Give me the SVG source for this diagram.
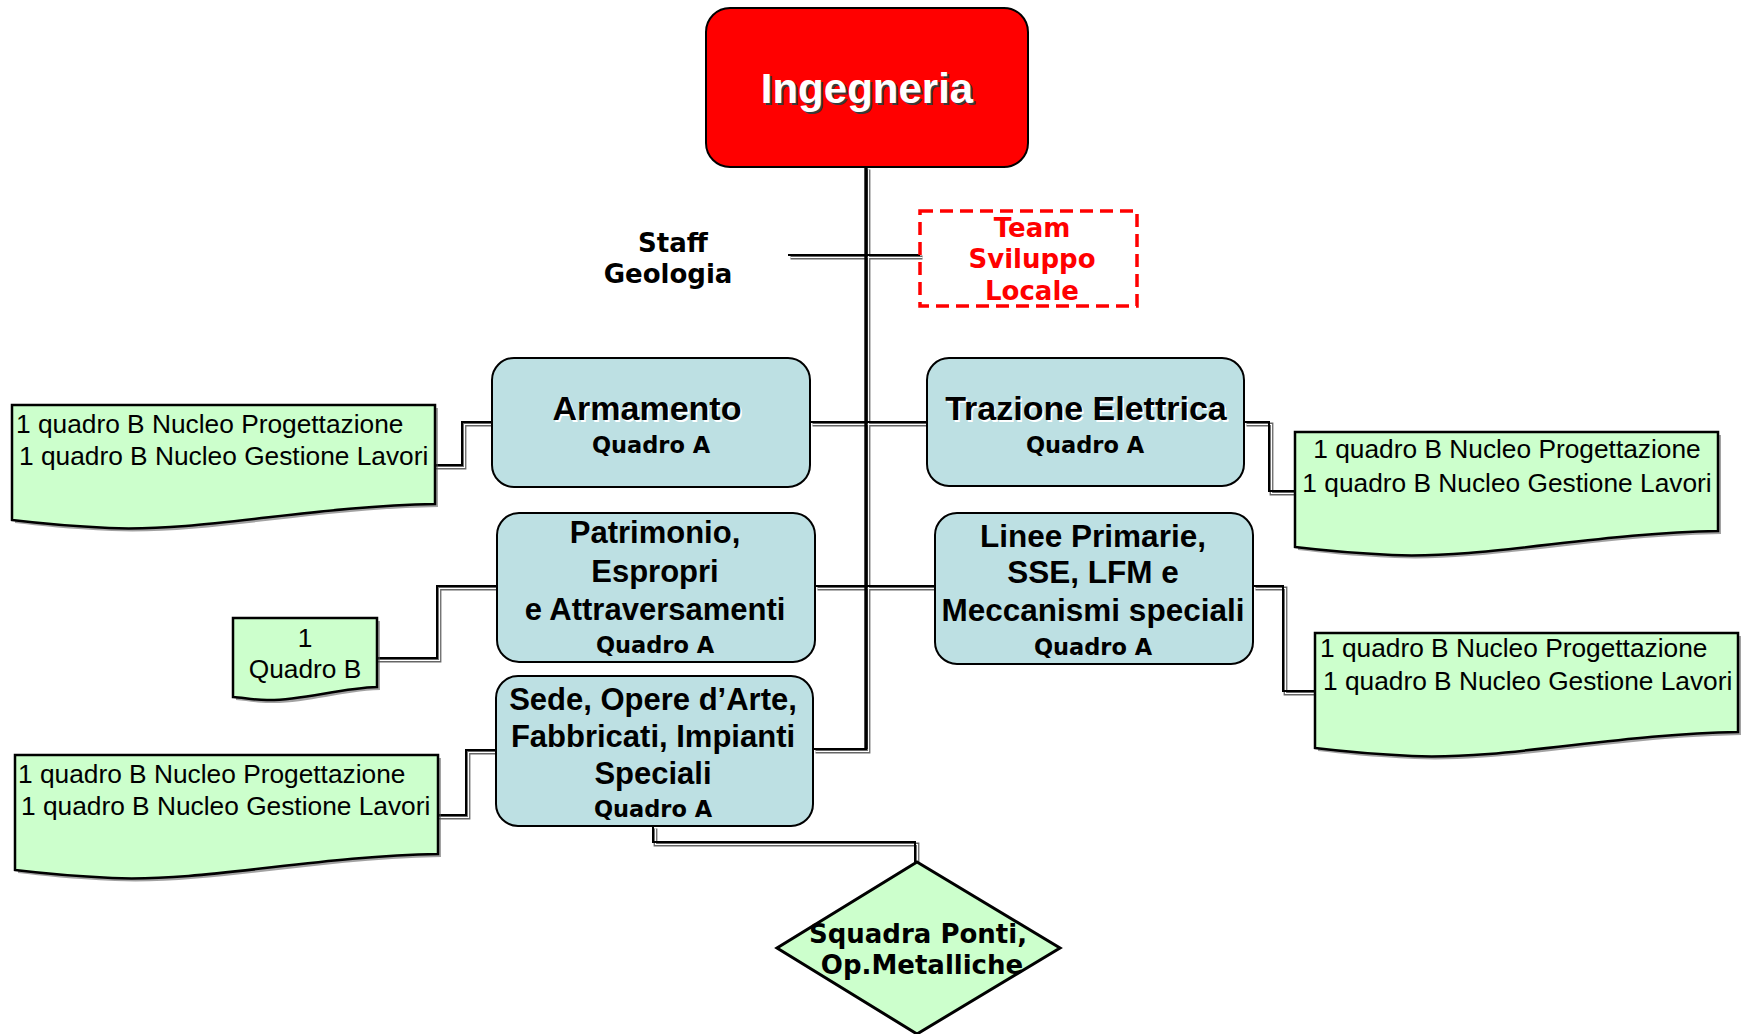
<svg xmlns="http://www.w3.org/2000/svg" xmlns:xlink="http://www.w3.org/1999/xlink" width="1745" height="1034" viewBox="0 0 1745 1034">
<style>
.bg{fill:#ffffff}
.box{fill:#bde0e3;stroke:#000;stroke-width:2}
.note{fill:#ccffcc;stroke:#000;stroke-width:2.5;stroke-linejoin:miter}
.nshadow{fill:#555;opacity:0.55}
.ttl{font-family:"Liberation Sans",Arial,sans-serif;font-weight:bold;fill:#000;text-anchor:middle}
.ttlh{font-family:"Liberation Sans",Arial,sans-serif;font-weight:bold;fill:#fff;text-anchor:middle}
.qa{font-family:"DejaVu Sans",Verdana,sans-serif;font-weight:bold;font-size:22.5px;fill:#000;text-anchor:middle}
.vb{font-family:"DejaVu Sans",Verdana,sans-serif;font-weight:bold;font-size:26px;text-anchor:middle}
.nt{font-family:"Liberation Sans",Arial,sans-serif;font-size:26.3px;fill:#000}
.cs{fill:none;stroke:#666;stroke-width:3.8}
.cw{fill:none;stroke:#ffffff;stroke-width:1.2}
.cb{fill:none;stroke:#000;stroke-width:2}
</style>
<defs>
<g id="conn-paths">
<path d="M866,167 V749 H813"/>
<path d="M788,255 H920"/>
<path d="M810,422 H927"/>
<path d="M815,586 H935"/>
<path d="M492,422 H462 V465 H432"/>
<path d="M497,586 H437 V658 H374"/>
<path d="M496,750 H466 V815 H435"/>
<path d="M1244,422 H1269 V491 H1298"/>
<path d="M1253,586 H1283 V691 H1318"/>
<path d="M653,826 V842 H915 V862"/>
</g>
<path id="note-shape" d="M0,0 H423 V99 C300,101 190,127 97,123 C55,121 25,118 0,115 Z"/>
<path id="small-note" d="M0,0 H144 V69 C107,70 67,83 34,82 C22,82 12,80 0,79 Z"/>
</defs>
<rect class="bg" x="0" y="0" width="1745" height="1034"/>

<g id="connectors">
<use xlink:href="#conn-paths" class="cs" transform="translate(2.5,2.5)"/>
<use xlink:href="#conn-paths" class="cw" transform="translate(2.5,2.5)"/>
<use xlink:href="#conn-paths" class="cb"/>
<path d="M866,167 V749" fill="none" stroke="#000" stroke-width="3.4"/>
</g>

<g id="ingegneria">
<rect x="706" y="8" width="322" height="159" rx="24" ry="24" fill="#ff0000" stroke="#000" stroke-width="2"/>
<text class="ttl" x="869" y="105" font-size="42" style="fill:#3a3a3a">Ingegneria</text>
<text class="ttlh" x="867" y="103" font-size="42">Ingegneria</text>
</g>

<g id="staff-geologia">
<text class="vb" x="673" y="252" fill="#000">Staff</text>
<text class="vb" x="668" y="283" fill="#000">Geologia</text>
</g>

<g id="team-sviluppo">
<rect x="920" y="211" width="217" height="95" fill="none" stroke="#ff0000" stroke-width="3.5" stroke-dasharray="13 7"/>
<text class="vb" x="1032" y="237" fill="#ff0000">Team</text>
<text class="vb" x="1032" y="268" fill="#ff0000">Sviluppo</text>
<text class="vb" x="1032" y="300" fill="#ff0000">Locale</text>
</g>

<g id="armamento">
<rect class="box" x="492" y="358" width="318" height="129" rx="22" ry="22"/>
<text class="ttlh" x="648.5" y="421.5" font-size="34">Armamento</text>
<text class="ttl" x="647" y="420" font-size="34">Armamento</text>
<text class="qa" x="651" y="453">Quadro A</text>
</g>

<g id="trazione">
<rect class="box" x="927" y="358" width="317" height="128" rx="22" ry="22"/>
<text class="ttlh" x="1087.5" y="421.5" font-size="34">Trazione Elettrica</text>
<text class="ttl" x="1086" y="420" font-size="34">Trazione Elettrica</text>
<text class="qa" x="1085" y="453">Quadro A</text>
</g>

<g id="patrimonio">
<rect class="box" x="497" y="513" width="318" height="149" rx="22" ry="22"/>
<text class="ttl" x="655" y="543" font-size="31">Patrimonio,</text>
<text class="ttl" x="655" y="582" font-size="31">Espropri</text>
<text class="ttl" x="655" y="620" font-size="31">e Attraversamenti</text>
<text class="qa" x="655" y="653">Quadro A</text>
</g>

<g id="linee">
<rect class="box" x="935" y="513" width="318" height="151" rx="22" ry="22"/>
<text class="ttl" x="1093" y="547" font-size="31.5">Linee Primarie,</text>
<text class="ttl" x="1093" y="583" font-size="31.5">SSE, LFM e</text>
<text class="ttl" x="1093" y="621" font-size="31.5">Meccanismi speciali</text>
<text class="qa" x="1093" y="655">Quadro A</text>
</g>

<g id="sede">
<rect class="box" x="496" y="676" width="317" height="150" rx="22" ry="22"/>
<text class="ttl" x="653" y="710" font-size="31">Sede, Opere d’Arte,</text>
<text class="ttl" x="653" y="747" font-size="31">Fabbricati, Impianti</text>
<text class="ttl" x="653" y="784" font-size="31">Speciali</text>
<text class="qa" x="653" y="817">Quadro A</text>
</g>

<g id="squadra-ponti">
<polygon points="917,862 1060,948 917,1034 777,948" fill="#ccffcc" stroke="#000" stroke-width="3"/>
<text class="vb" x="918" y="943" fill="#000">Squadra Ponti,</text>
<text class="vb" x="922" y="974" fill="#000">Op.Metalliche</text>
</g>

<g id="note-armamento">
<use xlink:href="#note-shape" class="nshadow" transform="translate(15,408)"/>
<use xlink:href="#note-shape" class="note" transform="translate(12,405)"/>
<text class="nt" x="16" y="433">1 quadro B Nucleo Progettazione</text>
<text class="nt" x="19" y="465">1 quadro B Nucleo Gestione Lavori</text>
</g>

<g id="note-patrimonio">
<use xlink:href="#small-note" class="nshadow" transform="translate(236,621)"/>
<use xlink:href="#small-note" class="note" transform="translate(233,618)"/>
<text class="nt" x="305" y="647" text-anchor="middle">1</text>
<text class="nt" x="305" y="678" text-anchor="middle">Quadro B</text>
</g>

<g id="note-sede">
<use xlink:href="#note-shape" class="nshadow" transform="translate(18,758)"/>
<use xlink:href="#note-shape" class="note" transform="translate(15,755)"/>
<text class="nt" x="18" y="783">1 quadro B Nucleo Progettazione</text>
<text class="nt" x="21" y="815">1 quadro B Nucleo Gestione Lavori</text>
</g>

<g id="note-trazione">
<use xlink:href="#note-shape" class="nshadow" transform="translate(1298,435)"/>
<use xlink:href="#note-shape" class="note" transform="translate(1295,432)"/>
<text class="nt" x="1507" y="458" text-anchor="middle">1 quadro B Nucleo Progettazione</text>
<text class="nt" x="1507" y="492" text-anchor="middle">1 quadro B Nucleo Gestione Lavori</text>
</g>

<g id="note-linee">
<use xlink:href="#note-shape" class="nshadow" transform="translate(1318,636)"/>
<use xlink:href="#note-shape" class="note" transform="translate(1315,633)"/>
<text class="nt" x="1320" y="657">1 quadro B Nucleo Progettazione</text>
<text class="nt" x="1323" y="690">1 quadro B Nucleo Gestione Lavori</text>
</g>
</svg>
